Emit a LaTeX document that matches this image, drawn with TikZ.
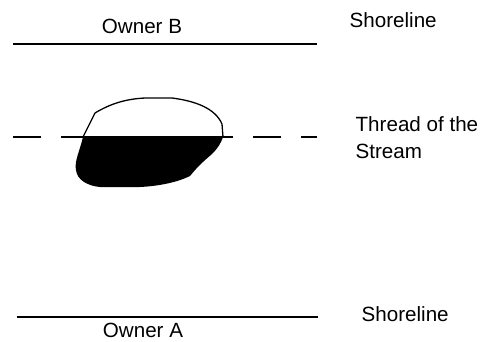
\documentclass[tikz,border=0pt]{standalone}
\usepackage{fontspec}
\setmainfont{Liberation Sans}
\usetikzlibrary{positioning}
\begin{document}
\begin{tikzpicture}[x=1pt, y=-1pt, line width=1.3pt]
        % Define styles
        \tikzstyle{label} = [inner sep=0pt, font=\fontsize{20.6}{24}\selectfont]
        \tikzstyle{shore} = [draw, line width=1.4pt]
        \tikzstyle{thread} = [draw, dash pattern=on 28pt off 20pt]

        \useasboundingbox (0,0) rectangle (485,341);

        % Place nodes
        \node [label, anchor=base] (ownerB) at (142,33) {Owner B};
        \node [label, anchor=base west] (shoreB) at (349,27) {Shoreline};
        \node [label, anchor=base west] (thread) at (355,131) {Thread of the};
        \node [label, anchor=base west] (stream) at ([yshift=-27pt]thread.base west) {Stream};
        \node [label, anchor=base west] (shoreA) at (361,321) {Shoreline};
        \node [label, anchor=base] (ownerA) at (143,337.5) {Owner A};

        % Shorelines and thread
        \coordinate (bl) at (13,44);  \coordinate (br) at (317,44);
        \coordinate (al) at (17,317); \coordinate (ar) at (318,317);
        \coordinate (tl) at (13,137); \coordinate (tr) at (317,137);
        \path [shore] (bl) -- (br);
        \path [shore] (al) -- (ar);
        \path [thread] (tl) -- (tr);

        % Island
        \draw [fill=white] (83,137) -- (95,113) .. controls (110,104) and (125,99) .. (145,98)
            -- (172,98) .. controls (195,101) and (215,108) .. (222,124) -- (223,137) -- cycle;
        \fill (83,137) .. controls (80,150) and (74,162) .. (76,170)
            .. controls (77,180) and (88,186) .. (100,187) -- (140,187)
            .. controls (160,186) and (178,182) .. (190,176)
            .. controls (198,166) and (205,160) .. (212,154)
            .. controls (218,148) and (221,143) .. (223,137) -- cycle;
        \draw (83,137) -- (223,137);
    \end{tikzpicture}
\end{document}
